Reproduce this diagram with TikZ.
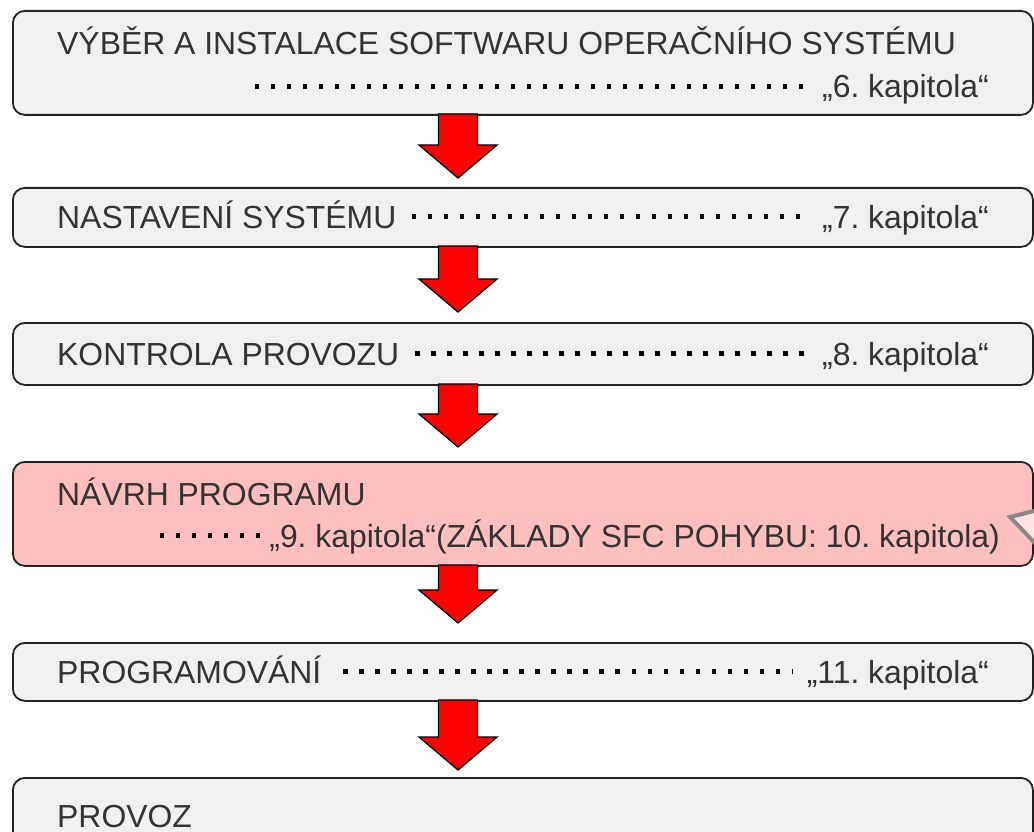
\documentclass[tikz,border=0pt]{standalone}
\usepackage{fontspec}
\setmainfont{Liberation Sans}
\usetikzlibrary{calc}
\definecolor{boxgray}{HTML}{F0F0F0}
\definecolor{boxpink}{HTML}{FFBFBF}
\definecolor{txt}{HTML}{333333}
\definecolor{edge}{HTML}{222222}
\definecolor{tri}{HTML}{888888}
\definecolor{trifill}{HTML}{FFE4E4}
\newcommand\redarrow[2]{%
  \draw[downarrow] ($(#1)+(-19.5,0)$) -- ($(#1)+(19.5,0)$) -- ($(#2)+(19.5,-33)$)
    -- ($(#2)+(39,-33)$) -- (#2) -- ($(#2)+(-39,-33)$) -- ($(#2)+(-19.5,-33)$) -- cycle;}
\frenchspacing
\begin{document}
\begin{tikzpicture}[x=1pt,y=-1pt,
  box/.style={draw=edge, line width=1.8pt, rounded corners=12pt, fill=boxgray,
    anchor=north west, minimum width=1020pt, inner sep=0pt},
  pinkbox/.style={box, fill=boxpink},
  lbl/.style={anchor=base west, inner sep=0pt, text=txt, font=\fontsize{31.9}{36}\selectfont},
  chap/.style={lbl, anchor=base east},
  dotline/.style={draw=black, line width=4.2pt, dash pattern=on 4.2pt off 11.8pt},
  downarrow/.style={draw=black, line width=1.3pt, fill=red, line join=miter}]
\useasboundingbox (0,0) rectangle (1034,832);
\clip (0,0) rectangle (1034,832);
\fill[white] (0,0) rectangle (1034,832);

% arrow end points
\coordinate (a1s) at (458,114); \coordinate (a1e) at (458,178);
\coordinate (a2s) at (458,246); \coordinate (a2e) at (458,312);
\coordinate (a3s) at (458,384); \coordinate (a3e) at (458,447);
\coordinate (a4s) at (458,565); \coordinate (a4e) at (458,623);
\coordinate (a5s) at (458,700); \coordinate (a5e) at (458,770);

% boxes
\node[box, minimum height=104pt] (b1) at (12,10) {};
\node[box, minimum height=59pt] (b2) at (12,187) {};
\node[box, minimum height=62pt] (b3) at (12,322) {};
\node[pinkbox, minimum height=104pt] (b4) at (12,461) {};
\node[box, minimum height=58pt] (b5) at (12,642) {};
\node[box, minimum height=100pt] (b6) at (12,777) {};

% arrows
\redarrow{a1s}{a1e}
\redarrow{a2s}{a2e}
\redarrow{a3s}{a3e}
\redarrow{a4s}{a4e}
\redarrow{a5s}{a5e}

% texts
\node[lbl] (l1) at (57,55) {VÝBĚR A INSTALACE SOFTWARU OPERAČNÍHO SYSTÉMU};
\node[chap] (k1) at (989,98) {„6. kapitola“};
\coordinate (d1) at (255,98);
\draw[dotline] ($(d1)+(0,-11.5)$) -- ($(k1.base west)+(-14,-11.5)$);

\node[lbl] (l2) at (57,228) {NASTAVENÍ SYSTÉMU};
\node[chap] (k2) at (989,228) {„7. kapitola“};
\draw[dotline] ($(l2.base east)+(15,-11.5)$) -- ($(k2.base west)+(-14,-11.5)$);

\node[lbl] (l3) at (57,365) {KONTROLA PROVOZU};
\node[chap] (k3) at (989,365) {„8. kapitola“};
\draw[dotline] ($(l3.base east)+(16,-11.5)$) -- ($(k3.base west)+(-14,-11.5)$);

\node[lbl] (l4) at (57,505) {NÁVRH PROGRAMU};
\node[chap] (k4) at (1000,547) {„9. kapitola“(ZÁKLADY SFC POHYBU: 10. kapitola)};
\coordinate (d4) at (160,547);
\draw[dotline] ($(d4)+(0,-11.5)$) -- ($(k4.base west)+(-2,-11.5)$);

\node[lbl] (l5) at (57,683) {PROGRAMOVÁNÍ};
\node[chap] (k5) at (989,683) {„11. kapitola“};
\draw[dotline] ($(l5.base east)+(22,-11.5)$) -- ($(k5.base west)+(-14,-11.5)$);

\node[lbl] (l6) at (57,827) {PROVOZ};

% partial callout triangle at the right edge
\draw[draw=tri, line width=4pt, fill=trifill, line join=miter] (1010,517) -- (1050,507) -- (1050,559) -- cycle;
\end{tikzpicture}
\end{document}
